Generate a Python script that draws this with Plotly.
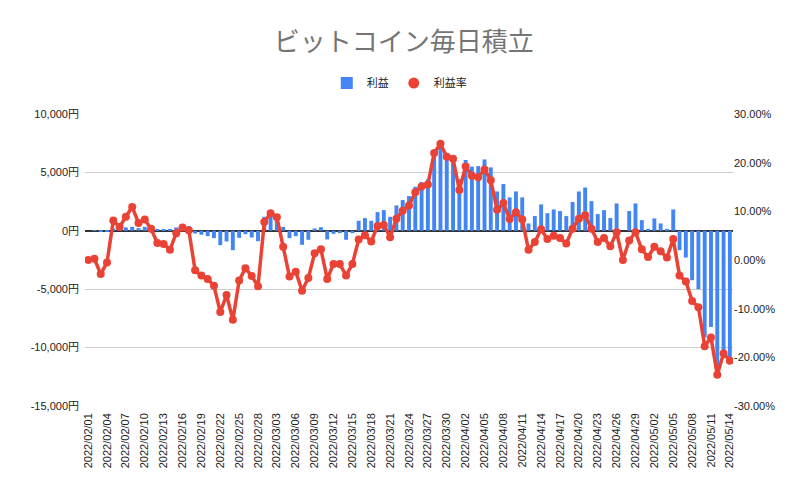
import pandas as pd
import plotly.graph_objects as go

dates = [d.strftime("%Y/%m/%d") for d in pd.date_range("2022-02-01", "2022-05-14", freq="D")]

profit = [
    0, 10, -60, -20, 200, 200, 290, 340, 230, 340,
    300, 90, 90, 120, 290, 400, 400, -230, -340, -460,
    -630, -1230, -910, -1660, -600, -290, -570, -890, 1200, 1430,
    1360, 340, -630, -460, -1200, -770, 200, 310, -740, -260,
    -200, -770, -200, 860, 1090, 860, 1600, 1770, 1200, 2170,
    2630, 2970, 3770, 4170, 4400, 6510, 7090, 6200, 6060, 4430,
    6060, 5490, 5540, 6110, 5430, 3370, 4000, 2860, 3370, 2860,
    630, 1260, 2260, 1510, 1830, 1690, 1260, 2460, 3370, 3710,
    2540, 1430, 1770, 1090, 2340, 0, 1690, 2340, 910, 170,
    1060, 630, 170, 1830, -1660, -2290, -4230, -5000, -9140, -8230,
    -12290, -10230, -11000,
]

rate_pct = [
    0.0, 0.25, -2.9, -0.5, 8.1, 6.8, 8.9, 10.9, 7.6, 8.3,
    6.4, 3.5, 3.3, 2.1, 5.5, 6.7, 6.1, -2.1, -3.2, -3.9,
    -5.3, -10.7, -7.2, -12.3, -4.2, -1.7, -3.3, -5.4, 7.8, 9.6,
    8.8, 2.7, -3.4, -2.4, -6.3, -3.7, 1.4, 2.2, -3.9, -0.8,
    -0.8, -3.2, -0.8, 4.2, 5.1, 3.8, 7.0, 7.2, 4.7, 8.5,
    10.1, 11.2, 13.9, 15.1, 15.5, 22.0, 23.9, 21.2, 20.8, 14.4,
    19.2, 17.3, 17.0, 18.6, 16.4, 10.3, 11.7, 8.4, 9.8, 8.3,
    2.1, 3.7, 6.3, 4.3, 5.0, 4.5, 3.4, 6.4, 8.5, 9.2,
    6.4, 3.7, 4.5, 2.8, 5.7, 0.0, 4.0, 5.7, 2.2, 0.6,
    2.7, 1.8, 0.5, 4.3, -3.2, -4.4, -8.4, -9.7, -17.7, -15.9,
    -23.6, -19.2, -20.7,
]
rate = [v / 100 for v in rate_pct]

left_ticks = [-15000, -10000, -5000, 0, 5000, 10000]
left_labels = ["-15,000円", "-10,000円", "-5,000円", "0円", "5,000円", "10,000円"]
right_ticks = [-0.3, -0.2, -0.1, 0.0, 0.1, 0.2, 0.3]
right_labels = ["-30.00%", "-20.00%", "-10.00%", "0.00%", "10.00%", "20.00%", "30.00%"]
x_ticks = dates[::3]

RED = "#EA4335"
BLUE = "#4285F4"

fig = go.Figure()
fig.add_trace(go.Bar(
    x=dates, y=profit, name="利益", marker_color=BLUE,
    marker_line_width=0, yaxis="y",
))
fig.add_trace(go.Scatter(
    x=dates, y=rate, name="利益率", mode="lines+markers",
    line=dict(color=RED, width=3.5),
    marker=dict(color=RED, size=8),
    yaxis="y2", showlegend=False,
))
# legend-only entry (marker symbol, as in the reference legend)
fig.add_trace(go.Scatter(
    x=[None], y=[None], name="利益率", mode="markers",
    marker=dict(color=RED, size=11), yaxis="y2", showlegend=True,
))

# the page body has an 8px default margin, so the figure is sized to fill the window from (8, 8)
fig.update_layout(
    width=801, height=491,
    margin=dict(l=77, r=76, t=106, b=93, autoexpand=False),
    paper_bgcolor="white", plot_bgcolor="white",
    font=dict(family="Arial, 'Liberation Sans', 'Noto Sans CJK JP'", size=11, color="#222222"),
    title=dict(
        text="ビットコイン毎日積立", x=0.494, xanchor="center", y=1 - 34 / 491, yanchor="middle",
        font=dict(family="'Noto Sans CJK JP'", size=26, color="#757575"),
    ),
    bargap=0.38,
    showlegend=True,
    legend=dict(
        orientation="h", x=0.485, xanchor="center", y=1.106, yanchor="middle",
        font=dict(family="'Noto Sans CJK JP'", size=11, color="#222222"),
        itemwidth=30, traceorder="normal",
    ),
    xaxis=dict(
        type="category", range=[-0.5, len(dates) - 0.5],
        tickmode="array", tickvals=x_ticks, ticktext=x_ticks,
        tickangle=-90, showgrid=False, showline=False, ticks="", automargin=False,
        ticklabelstandoff=4,
        tickfont=dict(size=11, color="#222222"),
    ),
    yaxis=dict(
        range=[-15000, 10000], tickmode="array", tickvals=left_ticks, ticktext=left_labels,
        showgrid=True, gridcolor="#CCCCCC", automargin=False,
        zeroline=True, zerolinecolor="#333333", zerolinewidth=1.5,
        ticklabelstandoff=5,
        tickfont=dict(family="Arial, 'Liberation Sans', 'Noto Sans CJK JP'", size=11, color="#222222"),
    ),
    yaxis2=dict(
        range=[-0.3, 0.3], tickmode="array", tickvals=right_ticks, ticktext=right_labels,
        overlaying="y", side="right", showgrid=False, automargin=False,
        zeroline=False,
        tickfont=dict(size=11, color="#222222"),
    ),
)

fig.write_html("out.html")
